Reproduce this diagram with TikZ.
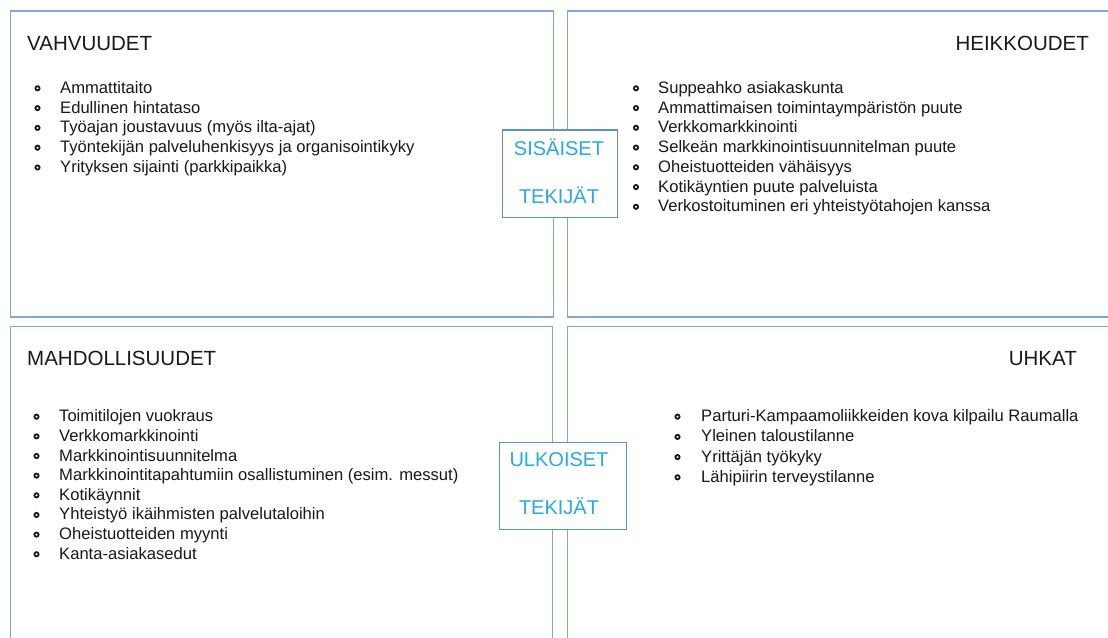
\documentclass[tikz,border=0pt]{standalone}
\usepackage{fontspec}
\setmainfont{Liberation Sans}
\definecolor{quadblue}{RGB}{128,166,218}
\definecolor{boxblue}{RGB}{95,145,210}
\definecolor{labcyan}{RGB}{40,170,232}
\definecolor{txt}{RGB}{25,25,30}
\tikzset{
  quad/.style={draw=quadblue, line width=1.3pt, fill=white, inner sep=0, anchor=north west},
  midbox/.style={draw=boxblue, line width=1.2pt, fill=white, inner sep=0, anchor=north west},
  head/.style={inner sep=0, text=txt, font=\fontsize{20.5}{24}\selectfont},
  item/.style={inner sep=0, anchor=base west, text=txt, font=\fontsize{16.6}{19}\selectfont},
  midlab/.style={inner sep=0, anchor=base, text=labcyan, font=\fontsize{20}{24}\selectfont},
  bul/.style={draw=txt, line width=1.8pt}
}
\begin{document}
\begin{tikzpicture}[x=1pt,y=-1pt]
\useasboundingbox (0,0) rectangle (1108,637);
% quadrants
\node[quad, minimum width=543pt, minimum height=306pt] (tl) at (9.6,10.3) {};
\node[quad, minimum width=560pt, minimum height=306pt] (tr) at (566.8,10.3) {};
\node[quad, minimum width=542pt, minimum height=330pt] (bl) at (9.6,325.5) {};
\node[quad, minimum width=560pt, minimum height=330pt] (br) at (566.8,325.5) {};
% headings
\node[head, anchor=base west] (h1) at (27,50.6) {VAHVUUDET};
\node[head, anchor=base east] (h2) at (1089,50.6) {HEIKKOUDET};
\node[head, anchor=base west] (h3) at (27,365.6) {MAHDOLLISUUDET};
\node[head, anchor=base east] (h4) at (1077,365.6) {UHKAT};
% lists
\foreach \t [count=\i] in {{Ammattitaito},{Edullinen hintataso},{Työajan joustavuus (myös ilta-ajat)},{Työntekijän palveluhenkisyys ja organisointikyky},{Yrityksen sijainti (parkkipaikka)}}{
  \pgfmathsetmacro{\yy}{88.3+19.8*(\i-1)}
  \draw[bul] (37.5,\yy) circle (2.1pt);
  \node[item] (a\i) at (60,\yy+5) {\t};
}
\foreach \t [count=\i] in {{Suppeahko asiakaskunta},{Ammattimaisen toimintaympäristön puute},{Verkkomarkkinointi},{Selkeän markkinointisuunnitelman puute},{Oheistuotteiden vähäisyys},{Kotikäyntien puute palveluista},{Verkostoituminen eri yhteistyötahojen kanssa}}{
  \pgfmathsetmacro{\yy}{88.3+19.75*(\i-1)}
  \draw[bul] (636,\yy) circle (2.1pt);
  \node[item] (b\i) at (658,\yy+5) {\t};
}
\foreach \t [count=\i] in {{Toimitilojen vuokraus},{Verkkomarkkinointi},{Markkinointisuunnitelma},{Markkinointitapahtumiin osallistuminen (esim. messut)},{Kotikäynnit},{Yhteistyö ikäihmisten palvelutaloihin},{Oheistuotteiden myynti},{Kanta-asiakasedut}}{
  \pgfmathsetmacro{\yy}{416.7+19.65*(\i-1)}
  \draw[bul] (36.5,\yy) circle (2.1pt);
  \node[item] (c\i) at (59,\yy+5) {\t};
}
\foreach \t [count=\i] in {{Parturi-Kampaamoliikkeiden kova kilpailu Raumalla},{Yleinen taloustilanne},{Yrittäjän työkyky},{Lähipiirin terveystilanne}}{
  \pgfmathsetmacro{\yy}{416.7+20.2*(\i-1)}
  \draw[bul] (677.5,\yy) circle (2.1pt);
  \node[item] (d\i) at (701,\yy+5) {\t};
}
% middle boxes
\node[midbox, minimum width=115pt, minimum height=87.4pt] (sis) at (501.7,129.3) {};
\node[midlab] (sis1) at (559,155) {SISÄISET};
\node[midlab] (sis2) at (559,203) {TEKIJÄT};
\node[midbox, minimum width=126.7pt, minimum height=87pt] (ulk) at (499,441.7) {};
\node[midlab] (ulk1) at (559,466) {ULKOISET};
\node[midlab] (ulk2) at (559,514) {TEKIJÄT};
\end{tikzpicture}
\end{document}
